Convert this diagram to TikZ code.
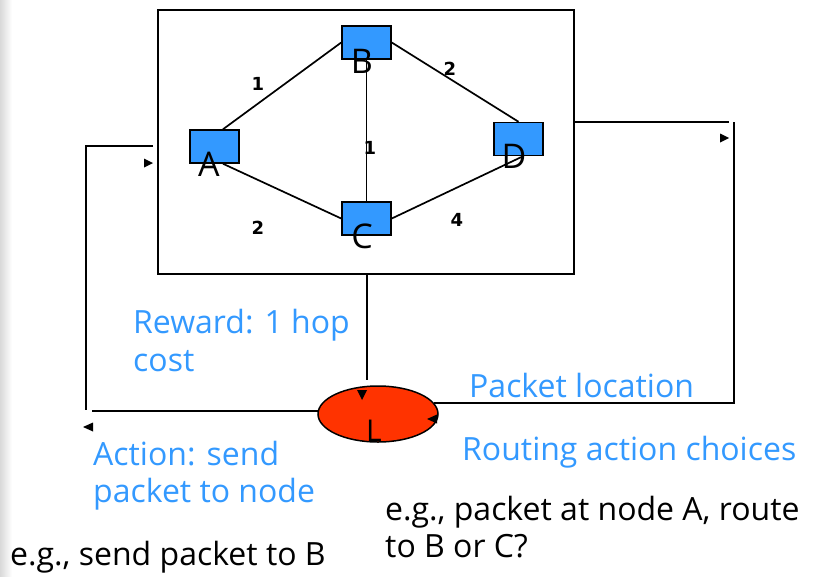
\documentclass[tikz,border=0pt]{standalone}
\usepackage{fontspec}
\setmainfont{Open Sans}
\newfontfamily\wfont{DejaVu Sans}
\usetikzlibrary{shapes.geometric}
\definecolor{nodeblue}{HTML}{3399FF}
\definecolor{txtblue}{HTML}{3399FF}
\definecolor{ellred}{HTML}{FF3300}
\tikzset{
  router/.style={draw=black, line width=1.5pt, fill=nodeblue, minimum width=49pt, minimum height=33pt, inner sep=0pt},
  letter/.style={font=\fontsize{34}{34}\selectfont, inner sep=0pt},
  weight/.style={font=\wfont\bfseries\fontsize{18}{18}\selectfont, inner sep=0pt},
  link/.style={line width=1.7pt},
  wire/.style={line width=1.6pt},
  bluetxt/.style={text=txtblue, font=\fontsize{32}{32}\selectfont, anchor=base west, inner sep=0pt},
  blacktxt/.style={text=black, font=\fontsize{32}{32}\selectfont, anchor=base west, inner sep=0pt},
  tip/.style={fill=black}
}
\begin{document}
\begin{tikzpicture}[x=1pt, y=-1pt]
\useasboundingbox (0,0) rectangle (814,576);
\shade[left color=black!15, right color=white] (0,0) rectangle (12,576);
% environment box
\node[draw=black, line width=1.7pt, minimum width=416pt, minimum height=264pt, inner sep=0pt] (box) at (366,142) {};
\draw[line width=2pt] (198,10) -- (207,10);
% routers
\node[router] (na) at (214.5,146.5) {};
\node[router] (nb) at (366.5,42.5) {};
\node[router] (nc) at (366.5,218.5) {};
\node[router] (nd) at (518.5,139) {};
% links
\draw[link] ([xshift=8.5pt]na.north) -- (nb.west);
\draw[link] ([xshift=8.5pt]na.south) -- (nc.west);
\draw[link] (nb.south) -- (nc.north);
\draw[link] (nb.east) -- (nd.north);
\draw[link] (nc.east) -- ([xshift=4.5pt]nd.south);
% letters
\node[letter] (la) at (209,164) {A};
\node[letter] (lb) at (362,61) {B};
\node[letter] (lc) at (362,236) {C};
\node[letter] (ld) at (514,156) {D};
% weights
\node[weight] (w1) at (258,84) {1};
\node[weight] (w2) at (450,69) {2};
\node[weight] (w3) at (370,148) {1};
\node[weight] (w4) at (258,228) {2};
\node[weight] (w5) at (457,220) {4};
% agent ellipse
\node[ellipse, draw=black, line width=1.5pt, fill=ellred, minimum width=120pt, minimum height=56pt, inner sep=0pt] (ag) at (378,414) {};
\node[font=\fontsize{30}{30}\selectfont, inner sep=0pt] (lL) at (374,431) {L};
% coordinates for wires
\coordinate (r0) at (574,122);
\coordinate (r1) at (729,122);
\coordinate (r2) at (734,122);
\coordinate (r3) at (734,403);
\coordinate (r4) at (434,403);
\coordinate (l0) at (153,146);
\coordinate (l1) at (86,146);
\coordinate (l2) at (86,410);
\coordinate (l3) at (92,411);
\coordinate (l4) at (319,411);
\coordinate (v1) at (367,380);
% wires
\draw[wire] (r0) -- (r1);
\draw[wire] (r2) -- (r3) -- (r4);
\draw[wire] (l0) -- (l1) -- (l2);
\draw[wire] (l3) -- (l4);
\draw[wire] (box.south -| v1) -- (v1);
% detached arrow tips
\fill[tip] (720,133.5) -- (729,138) -- (720,142.5) -- cycle;
\fill[tip] (144,158.5) -- (153,163) -- (144,167.5) -- cycle;
\fill[tip] (93,422.5) -- (83,427) -- (93,431.5) -- cycle;
\fill[tip] (357,390) -- (367,390) -- (362,400) -- cycle;
\fill[tip] (437,414.5) -- (427,419) -- (437,423.5) -- cycle;
% texts
\node[bluetxt] (t1a) at (133,333) {Reward: 1 hop};
\node[bluetxt] (t1b) at (133,371) {cost};
\node[bluetxt] (t2) at (469,397) {Packet location};
\node[bluetxt] (t3a) at (93,465) {Action: send};
\node[bluetxt] (t3b) at (93,502) {packet to node};
\node[bluetxt] (t4) at (462,460) {Routing action choices};
\node[blacktxt] (t5a) at (385,520) {e.g., packet at node A, route};
\node[blacktxt] (t5b) at (385,557) {to B or C?};
\node[blacktxt] (t6) at (10,565) {e.g., send packet to B};
\end{tikzpicture}
\end{document}
